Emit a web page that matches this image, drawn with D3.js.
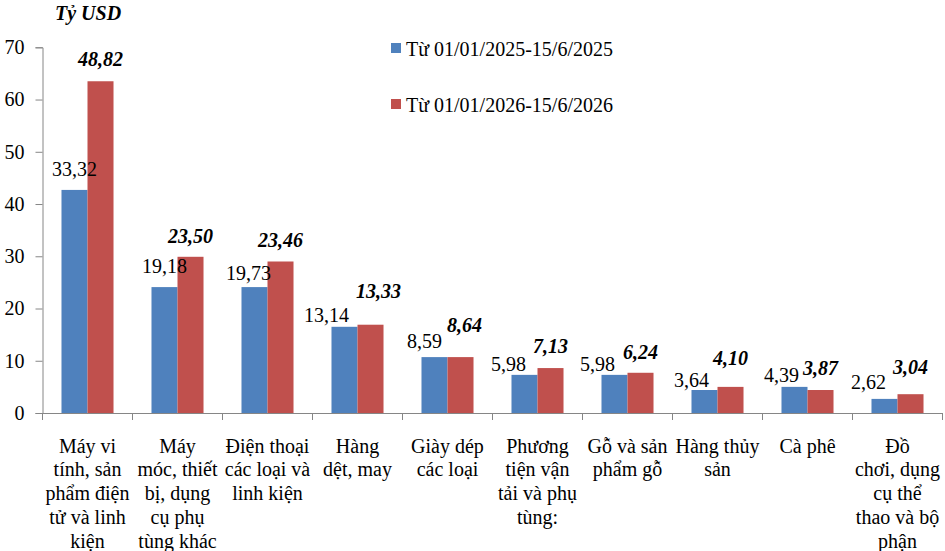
<!DOCTYPE html>
<html>
<head>
<meta charset="utf-8">
<script src="https://cdn.jsdelivr.net/npm/d3@7"></script>
<style>
  body { margin: 0; background: #fff; }
</style>
</head>
<body>
<div id="chart"></div>
<script>
// category labels, already broken into lines like the original
var categories = [
  ["Máy vi", "tính, sản", "phẩm điện", "tử và linh", "kiện"],
  ["Máy", "móc, thiết", "bị, dụng", "cụ phụ", "tùng khác"],
  ["Điện thoại", "các loại và", "linh kiện"],
  ["Hàng", "dệt, may"],
  ["Giày dép", "các loại"],
  ["Phương", "tiện vận", "tải và phụ", "tùng:"],
  ["Gỗ và sản", "phẩm gỗ"],
  ["Hàng thủy", "sản"],
  ["Cà phê"],
  ["Đồ", "chơi, dụng", "cụ thể", "thao và bộ", "phận"]
];
var seriesNames = ["Từ 01/01/2025-15/6/2025", "Từ 01/01/2026-15/6/2026"];

// bar heights as drawn
var bars2025 = [42.7, 24.1, 24.1, 16.5, 10.7, 7.3, 7.3, 4.4, 5.0, 2.7];
var bars2026 = [63.5, 29.9, 29.0, 16.9, 10.7, 8.6, 7.7, 5.0, 4.4, 3.6];

// data labels printed on the chart
var labels2025 = ["33,32", "19,18", "19,73", "13,14", "8,59", "5,98", "5,98", "3,64", "4,39", "2,62"];
var labels2026 = ["48,82", "23,50", "23,46", "13,33", "8,64", "7,13", "6,24", "4,10", "3,87", "3,04"];

var yTicks = [0, 10, 20, 30, 40, 50, 60, 70];

// manual label nudges (the original labels were dragged by hand)
var nudge2025 = [[0,0],[0,0],[-6,7],[-18,9],[-10,5],[-16,10],[-17,10],[-13,11],[-13,9],[-16,4]];
var nudge2026 = [[0,-1],[0,0],[0,0],[8,-13],[4,-11],[0,-1],[0,0],[0,-8],[0,-1],[0,-6]];

var colors = ["#4F81BD", "#C0504D"];
var serif = "'Liberation Serif', 'Times New Roman', Tinos, 'DejaVu Serif', serif";

var W = 945, H = 551;
var margin = {top: 47.3, left: 42.5, right: 2.5, bottom: 138};

var svg = d3.select("#chart").append("svg")
    .attr("width", W)
    .attr("height", H)
    .style("font-family", serif);

var x0 = d3.scaleBand()
    .domain(d3.range(categories.length))
    .range([margin.left, W - margin.right])
    .padding(0);

var x1 = d3.scaleBand()
    .domain([0, 1])
    .range([0, x0.bandwidth()])
    .paddingInner(0)
    .paddingOuter(0.73);

var y = d3.scaleLinear()
    .domain([0, 70])
    .range([H - margin.bottom, margin.top]);

// y axis
var yAxis = svg.append("g")
    .attr("transform", "translate(" + margin.left + ",0)")
    .call(d3.axisLeft(y).tickValues(yTicks).tickSize(7).tickPadding(11).tickFormat(d3.format("d")));
yAxis.attr("font-family", null).attr("font-size", null);
yAxis.selectAll("text").style("font-size", "20px").style("font-family", serif).attr("fill", "#000");
yAxis.selectAll("line, path").attr("stroke", "#868686");

// bars
var series = [bars2025, bars2026];
series.forEach(function(vals, s) {
  svg.append("g").selectAll("rect")
    .data(vals)
    .enter().append("rect")
      .attr("x", function(d, i) { return x0(i) + x1(s); })
      .attr("y", function(d) { return y(d); })
      .attr("width", x1.bandwidth())
      .attr("height", function(d) { return y(0) - y(d); })
      .attr("fill", colors[s]);
});

// x axis line and boundary ticks
var y0 = y(0);
svg.append("line")
    .attr("x1", margin.left).attr("x2", W - margin.right)
    .attr("y1", y0 + 0.5).attr("y2", y0 + 0.5)
    .attr("stroke", "#868686");
var bounds = d3.range(categories.length + 1).map(function(i) {
  return i < categories.length ? x0(i) : x0(i - 1) + x0.bandwidth();
});
svg.append("g").selectAll("line")
    .data(bounds)
    .enter().append("line")
      .attr("x1", function(d) { return d; }).attr("x2", function(d) { return d; })
      .attr("y1", y0).attr("y2", y0 + 7)
      .attr("stroke", "#868686");

// category labels
categories.forEach(function(lines, i) {
  var t = svg.append("text")
      .attr("text-anchor", "middle")
      .style("font-family", serif)
      .style("font-size", "20px");
  lines.forEach(function(line, k) {
    t.append("tspan")
      .attr("x", x0(i) + x0.bandwidth() / 2)
      .attr("y", y0 + 39.7 + k * 23.7)
      .text(line);
  });
});

// data labels
var labelSets = [labels2025, labels2026];
var nudges = [nudge2025, nudge2026];
labelSets.forEach(function(labs, s) {
  svg.append("g").selectAll("text")
    .data(labs)
    .enter().append("text")
      .attr("text-anchor", "middle")
      .attr("x", function(d, i) { return x0(i) + x1(s) + x1.bandwidth() / 2 + nudges[s][i][0]; })
      .attr("y", function(d, i) { return y(series[s][i]) - 14 + nudges[s][i][1]; })
      .style("font-family", serif)
      .style("font-size", "20px")
      .style("font-weight", s === 1 ? "bold" : "normal")
      .style("font-style", s === 1 ? "italic" : "normal")
      .text(function(d) { return d; });
});

// legend
var legend = svg.append("g").attr("transform", "translate(391,43)");
seriesNames.forEach(function(name, s) {
  var g = legend.append("g").attr("transform", "translate(0," + s * 56 + ")");
  g.append("rect").attr("width", 10).attr("height", 10).attr("fill", colors[s]);
  g.append("text").attr("x", 15).attr("y", 12.5)
    .style("font-family", serif)
    .style("font-size", "20px")
    .text(name);
});

// unit title
svg.append("text")
    .attr("x", 55).attr("y", 20)
    .style("font-family", serif)
    .style("font-size", "20px")
    .style("font-weight", "bold")
    .style("font-style", "italic")
    .text("Tỷ USD");
</script>
</body>
</html>
